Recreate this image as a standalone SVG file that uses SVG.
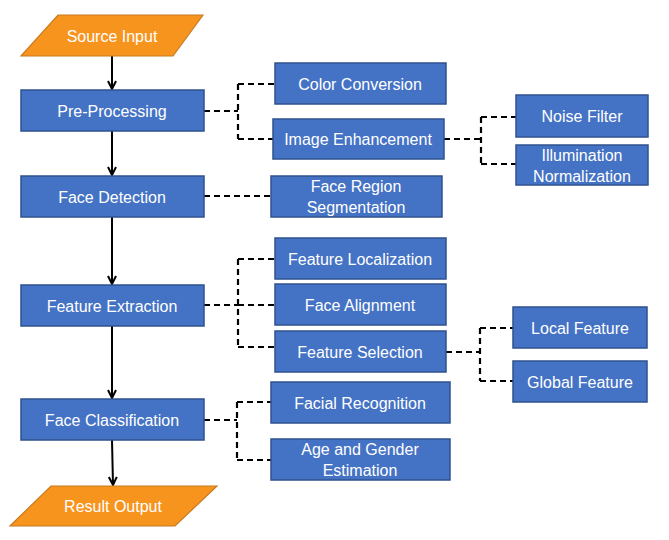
<svg xmlns="http://www.w3.org/2000/svg" width="669" height="540" viewBox="0 0 669 540">
<style>
.b{fill:#4472C4;stroke:#2F528F;stroke-width:1.5}
.o{fill:#F7941E;stroke:#C87B1F;stroke-width:1.2}
.t{font-family:"Liberation Sans",Arial,sans-serif;font-size:16px;fill:#fff;text-anchor:middle;dominant-baseline:central}
.a{stroke:#000;stroke-width:2;fill:none;marker-end:url(#ah)}
.d{stroke:#000;stroke-width:2.2;fill:none;stroke-dasharray:6,4}
</style>
<defs>
<marker id="ah" viewBox="0 0 10 10" refX="9" refY="5" markerWidth="5" markerHeight="5" orient="auto" markerUnits="strokeWidth">
<path d="M1,1 L9,5 L1,9" fill="none" stroke="#000" stroke-width="2"/>
</marker>
</defs>
<g id="connectors">
<path class="a" d="M112,56 V89"/>
<path class="a" d="M112,131 V175"/>
<path class="a" d="M112,217 V284"/>
<path class="a" d="M112,326 V398"/>
<path class="a" d="M112,440 L113,485"/>
<path class="d" d="M204,111 H238 M238,84 V139 M238,84 H275 M238,139 H273"/>
<path class="d" d="M204,196 H271"/>
<path class="d" d="M444,139 H481 M481,117 V164 M481,117 H516 M481,164 H516"/>
<path class="d" d="M204,305 H238 M238,259 V347 M238,259 H275 M238,305 H275 M238,347 H275"/>
<path class="d" d="M446,352 H480 M480,328 V381 M480,328 H513 M480,381 H513"/>
<path class="d" d="M204,420 H237 M237,402 V460 M237,402 H271 M237,460 H271"/>
</g>
<g id="source-input"><polygon class="o" points="58,15 203,15 173,56 21,56"/><text class="t" x="112" y="36">Source Input</text></g>
<g id="pre-processing"><rect class="b" x="21" y="90" width="183" height="41"/><text class="t" x="112" y="111">Pre-Processing</text></g>
<g id="face-detection"><rect class="b" x="21" y="176" width="183" height="41"/><text class="t" x="112" y="197">Face Detection</text></g>
<g id="feature-extraction"><rect class="b" x="21" y="285" width="183" height="41"/><text class="t" x="112" y="306">Feature Extraction</text></g>
<g id="face-classification"><rect class="b" x="21" y="399" width="183" height="41"/><text class="t" x="112" y="420">Face Classification</text></g>
<g id="result-output"><polygon class="o" points="51,486 217,486 175,526 10,526"/><text class="t" x="113" y="506">Result Output</text></g>
<g id="color-conversion"><rect class="b" x="275" y="63" width="171" height="41"/><text class="t" x="360" y="84">Color Conversion</text></g>
<g id="image-enhancement"><rect class="b" x="273" y="119" width="171" height="40"/><text class="t" x="358" y="139">Image Enhancement</text></g>
<g id="face-region-segmentation"><rect class="b" x="271" y="176" width="171" height="41"/><text class="t" x="356" y="186">Face Region</text><text class="t" x="356" y="207">Segmentation</text></g>
<g id="noise-filter"><rect class="b" x="516" y="95" width="132" height="42"/><text class="t" x="582" y="116">Noise Filter</text></g>
<g id="illumination-normalization"><rect class="b" x="516" y="145" width="132" height="40"/><text class="t" x="582" y="155">Illumination</text><text class="t" x="582" y="176">Normalization</text></g>
<g id="feature-localization"><rect class="b" x="275" y="238" width="171" height="41"/><text class="t" x="360" y="259">Feature Localization</text></g>
<g id="face-alignment"><rect class="b" x="275" y="284" width="171" height="41"/><text class="t" x="360" y="305">Face Alignment</text></g>
<g id="feature-selection"><rect class="b" x="275" y="331" width="171" height="41"/><text class="t" x="360" y="352">Feature Selection</text></g>
<g id="local-feature"><rect class="b" x="513" y="307" width="134" height="41"/><text class="t" x="580" y="328">Local Feature</text></g>
<g id="global-feature"><rect class="b" x="513" y="361" width="134" height="41"/><text class="t" x="580" y="382">Global Feature</text></g>
<g id="facial-recognition"><rect class="b" x="271" y="382" width="179" height="41"/><text class="t" x="360" y="403">Facial Recognition</text></g>
<g id="age-gender-estimation"><rect class="b" x="271" y="439" width="179" height="41"/><text class="t" x="360" y="449">Age and Gender</text><text class="t" x="360" y="470">Estimation</text></g>
</svg>
